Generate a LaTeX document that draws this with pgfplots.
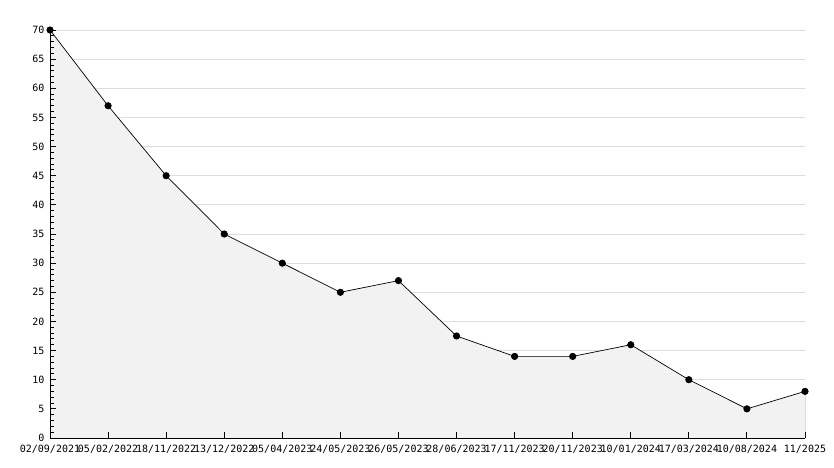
\documentclass[border=0pt]{standalone}
\usepackage{fontspec}
\setmonofont{DejaVu Sans Mono}
\usepackage{pgfplots}
\pgfplotsset{compat=1.18}
\definecolor{fillgray}{RGB}{242,242,242}
\definecolor{gridgray}{RGB}{221,221,221}
\pgfplotstableread{
x y
0 70
1 57
2 45
3 35
4 30
5 25
6 27
7 17.5
8 14
9 14
10 16
11 10
12 5
13 8
}\datatable
\pgfplotsset{common/.style={
  scale only axis,
  width=755bp, height=408bp,
  xmin=0, xmax=13, ymin=0, ymax=70,
}}
\begin{document}
\begin{tikzpicture}
% background: grid and fill
\begin{axis}[common,
  axis line style={draw=none},
  xtick=\empty,
  ytick={0,5,...,70}, yticklabels={},
  major tick length=0pt,
  ymajorgrids,
  major grid style={gridgray, line width=0.8bp},
]
\addplot[draw=none, fill=fillgray] table[x=x,y=y]{\datatable} \closedcycle;
\end{axis}
% foreground: axes, ticks, line, marks
\begin{axis}[common,
  axis x line=bottom, axis y line=left,
  axis line style={-, black, line width=1bp},
  xtick={0,...,13},
  xticklabels={02/09/2021,05/02/2022,18/11/2022,13/12/2022,05/04/2023,24/05/2023,26/05/2023,28/06/2023,17/11/2023,20/11/2023,10/01/2024,17/03/2024,10/08/2024,11/2025},
  ytick={0,5,...,70},
  minor y tick num=4,
  tick align=inside,
  major tick length=6bp, minor tick length=4bp,
  tick style={black, line width=0.9bp},
  minor tick style={black, line width=0.9bp},
  /pgf/number format/assume math mode=true,
  ticklabel style={font=\ttfamily\fontsize{10bp}{12bp}\selectfont, text=black},
  xticklabel style={yshift=-4bp},
  yticklabel style={xshift=-2bp},
]
\addplot[draw=black, line width=0.7bp, mark=none] coordinates {(13,8) (13,0)};
\addplot[draw=black, line width=0.7bp, mark=*, mark size=3.2bp, mark options={fill=black}] table[x=x,y=y]{\datatable};
\end{axis}
\useasboundingbox (-50bp,-30bp) rectangle (784bp,438bp);
\end{tikzpicture}
\end{document}
